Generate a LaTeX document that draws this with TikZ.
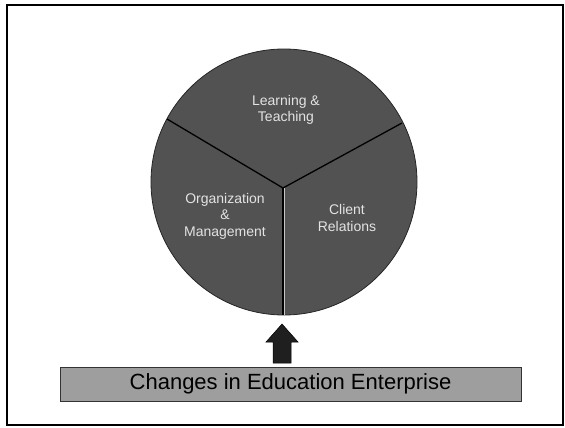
\documentclass[tikz,border=0pt]{standalone}
\usepackage{fontspec}
\setmainfont{Liberation Sans}
\begin{document}
\begin{tikzpicture}[x=1pt,y=-1pt,
  pielabel/.style={align=center,text=gray!22,font=\fontsize{14}{16.5}\selectfont,inner sep=0},
  divider/.style={draw=black,line width=1.3pt},
  banner/.style={draw=black!80,line width=1pt,fill=black!38,minimum width=461pt,minimum height=34pt,
    font=\fontsize{22}{26}\selectfont,inner sep=0},
  blockarrow/.style={fill=black!88,draw=black,line width=0.5pt}]
\useasboundingbox (0,0) rectangle (565,428);
\draw[line width=2.5pt] (7,5) rectangle (563,425);
% pie
\node[circle,draw=black!85,line width=0.8pt,fill=black!68,minimum size=266pt,inner sep=0,outer sep=0] (pie) at (284,182) {};
\coordinate (hub) at (283,188);
\coordinate (eL) at (167,119);
\coordinate (eR) at (402,123);
\coordinate (eB) at (283,315);
\draw[divider] (hub) -- (eL);
\draw[divider] (hub) -- (eR);
\draw[divider] (hub) -- (eB);
\draw[gray!45,line width=0.5pt] ([xshift=0.9pt]hub) -- ([xshift=0.9pt]eB);
\node[pielabel] (lt) at (286,110) {Learning \&\\Teaching};
\node[pielabel] (om) at (225,216) {Organization\\\&\\Management};
\node[pielabel] (cr) at (347,218) {Client\\Relations};
% banner
\node[banner] (chg) at (290.5,384) {Changes in Education Enterprise};
% block arrow
\coordinate (tip) at (282,324);
\draw[blockarrow] (tip) -- (298,342) -- (291,342) -- (291,363) -- (273,363) -- (273,342) -- (266,342) -- cycle;
\end{tikzpicture}
\end{document}
